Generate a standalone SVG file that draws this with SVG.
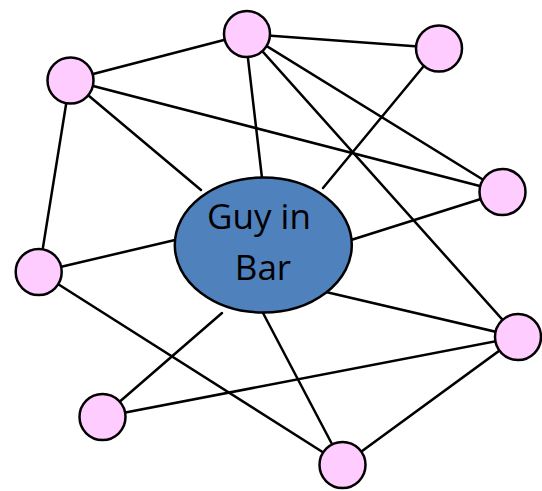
<svg xmlns="http://www.w3.org/2000/svg" width="542" height="491" viewBox="0 0 542 491">
<style>
.e{stroke:#000;stroke-width:2.5;fill:none;stroke-linecap:round}
.n{fill:#ffccff;stroke:#000;stroke-width:2.5}
.c{fill:#4f81bd;stroke:#000;stroke-width:2.5}
.t{font-family:"Open Sans","Liberation Sans",sans-serif;font-size:35px;fill:#000;text-anchor:middle}
</style>
<rect width="542" height="491" fill="#fff"/>
<g id="connectors" class="e">
<line x1="247" y1="34" x2="70" y2="80"/>
<line x1="247" y1="34" x2="439" y2="48"/>
<line x1="247" y1="50" x2="262" y2="178"/>
<line x1="247" y1="34" x2="503" y2="192"/>
<line x1="247" y1="34" x2="518" y2="337"/>
<line x1="70" y1="80" x2="201" y2="190"/>
<line x1="70" y1="80" x2="503" y2="192"/>
<line x1="70" y1="80" x2="39" y2="272"/>
<line x1="423" y1="67" x2="323" y2="188"/>
<line x1="503" y1="192" x2="351" y2="240"/>
<line x1="39" y1="272" x2="175" y2="240"/>
<line x1="39" y1="272" x2="343" y2="465"/>
<line x1="326" y1="292" x2="518" y2="337"/>
<line x1="263" y1="313" x2="343" y2="465"/>
<line x1="222" y1="313" x2="102" y2="417"/>
<line x1="102" y1="417" x2="518" y2="337"/>
<line x1="343" y1="465" x2="518" y2="337"/>
</g>
<g id="n-top"><circle class="n" cx="247" cy="34" r="23"/></g>
<g id="n-topright"><circle class="n" cx="439" cy="48.5" r="23"/></g>
<g id="n-lefttop"><circle class="n" cx="70.5" cy="80.5" r="23"/></g>
<g id="n-right"><circle class="n" cx="502.5" cy="192" r="23"/></g>
<g id="n-left"><circle class="n" cx="38.7" cy="272" r="23"/></g>
<g id="n-rightbottom"><circle class="n" cx="518" cy="337" r="23"/></g>
<g id="n-bottomleft"><circle class="n" cx="102.5" cy="417" r="23"/></g>
<g id="n-bottom"><circle class="n" cx="342.5" cy="465" r="23"/></g>
<g id="guy"><ellipse class="c" cx="263.3" cy="245" rx="88.5" ry="67.5"/>
<text class="t" x="259" y="229">Guy in</text>
<text class="t" x="263" y="280">Bar</text></g>
</svg>
